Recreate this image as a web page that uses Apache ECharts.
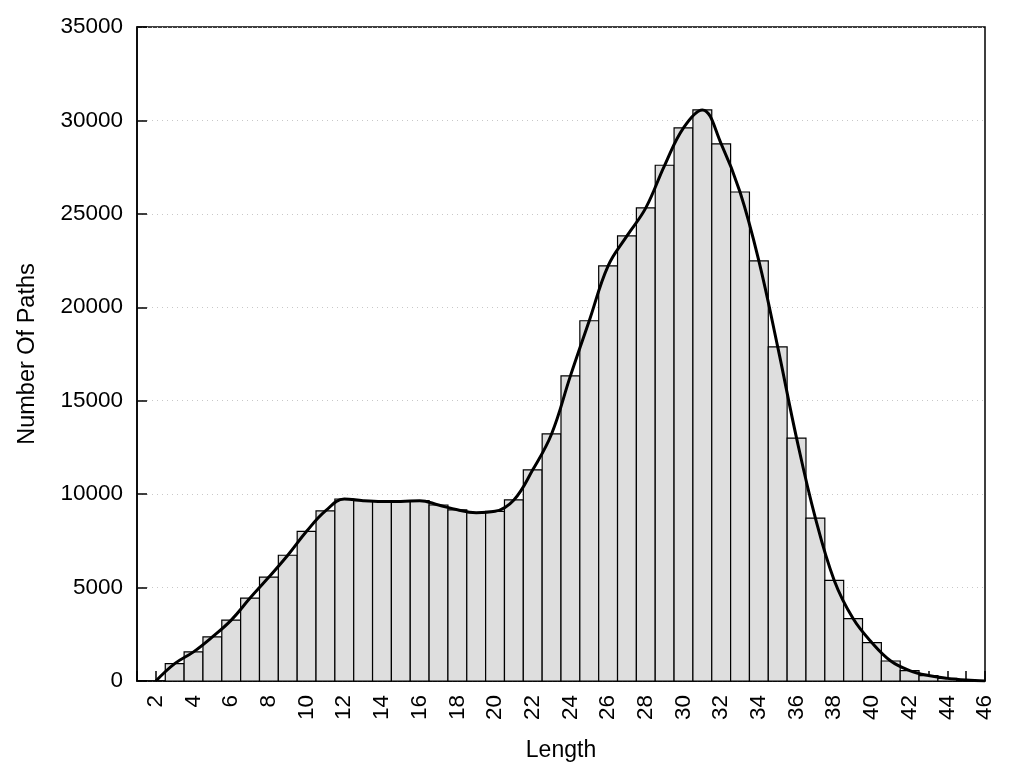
<!DOCTYPE html>
<html>
<head>
<meta charset="utf-8">
<script src="https://cdn.jsdelivr.net/npm/echarts@6/dist/echarts.min.js"></script>
<style>html,body{margin:0;padding:0;background:#fff;}#chart{width:1024px;height:768px;}</style>
</head>
<body>
<div id="chart"></div>
<script>
// Path lengths (bar centres) and counts
const lengths = [3,4,5,6,7,8,9,10,11,12,13,14,15,16,17,18,19,20,21,22,23,24,25,26,27,28,29,30,31,32,33,34,35,36,37,38,39,40,41,42,43,44,45];
const counts  = [930,1560,2360,3260,4440,5560,6730,8010,9100,9740,9650,9610,9610,9650,9420,9160,9010,9080,9690,11300,13220,16330,19280,22220,23820,25320,27600,29600,30560,28750,26170,22480,17880,13000,8720,5380,3340,2050,1070,560,290,140,50];
// Smoothed curve
const curveX = [2,3,4,5,6,7,8,9,10,11,12,13,14,15,16,17,18,19,20,21,22,23,24,25,26,27,28,29,30,31,32,33,34,35,36,37,38,39,40,41,42,43,44,45,46];
const curveY = [0,930,1560,2360,3260,4440,5560,6730,8010,9100,9740,9650,9610,9610,9650,9420,9160,9010,9080,9690,11300,13220,16330,19280,22220,23820,25320,27600,29600,30560,28750,26170,22480,17880,13000,8720,5380,3340,2050,1070,560,290,140,50,0];
const yTicks = [0,5000,10000,15000,20000,25000,30000,35000];

const chart = echarts.init(document.getElementById('chart'));
const font = 'Liberation Sans, Arial, sans-serif';
chart.setOption({
  backgroundColor: '#fff',
  animation: false,
  grid: {left: 137, right: 39, top: 27, bottom: 87, show: true, borderColor: '#000', borderWidth: 1.5, backgroundColor: 'transparent'},
  xAxis: {
    type: 'value', min: 1, max: 46, interval: 1,
    name: 'Length', nameLocation: 'middle', nameGap: 58,
    nameTextStyle: {fontFamily: font, fontSize: 23, color: '#000'},
    axisLine: {show: true, onZero: false, lineStyle: {color: '#000', width: 1.5}},
    axisTick: {show: true, inside: true, length: 10, lineStyle: {color: '#000', width: 1.5}},
    axisLabel: {rotate: 90, margin: 14, fontFamily: font, fontSize: 22.5, color: '#000',
      formatter: v => (v % 2 === 0 ? String(v) : '')},
    splitLine: {show: false}
  },
  yAxis: {
    type: 'value', min: yTicks[0], max: yTicks[yTicks.length-1], interval: 5000,
    name: 'Number Of Paths', nameLocation: 'middle', nameGap: 97,
    nameTextStyle: {fontFamily: font, fontSize: 23.5, color: '#000'},
    axisLine: {show: true, lineStyle: {color: '#000', width: 1.5}},
    axisTick: {show: true, inside: true, length: 10, lineStyle: {color: '#000', width: 1.5}},
    axisLabel: {margin: 14, fontFamily: font, fontSize: 22.5, color: '#000', formatter: v => String(v)},
    splitLine: {show: true, lineStyle: {color: '#c8c8c8', type: [1, 4], width: 1}}
  },
  series: [
    {
      type: 'custom',
      data: lengths.map((x, i) => [x, counts[i]]),
      encode: {x: 0, y: 1},
      renderItem: function (params, api) {
        const x = api.value(0), y = api.value(1);
        const p0 = api.coord([x - 0.5, y]);
        const p1 = api.coord([x + 0.5, 0]);
        return {
          type: 'rect',
          shape: {x: p0[0], y: p0[1], width: p1[0] - p0[0], height: p1[1] - p0[1]},
          style: {fill: '#dedede', stroke: '#000', lineWidth: 1.2}
        };
      },
      z: 2
    },
    {
      type: 'line',
      data: curveX.map((x, i) => [x, curveY[i]]),
      smooth: 0.4,
      symbol: 'none',
      lineStyle: {color: '#000', width: 3},
      z: 3
    }
  ]
});
</script>
</body>
</html>
